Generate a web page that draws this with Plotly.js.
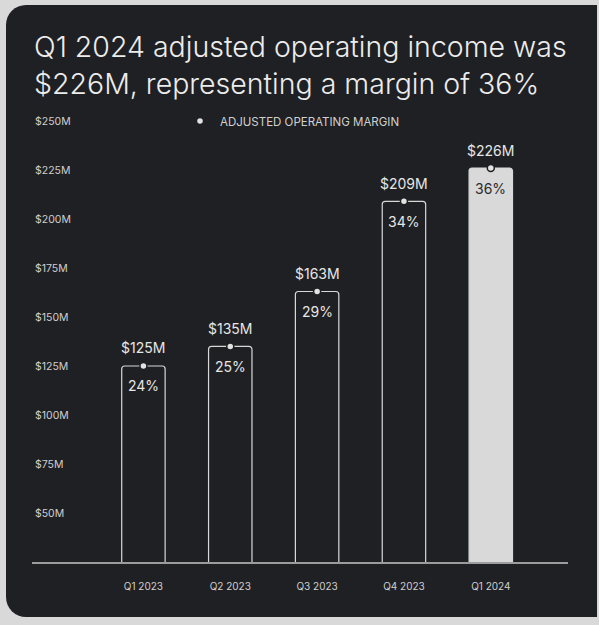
<!DOCTYPE html>
<html>
<head>
<meta charset="utf-8">
<script src="https://cdn.plot.ly/plotly-3.0.1.min.js"></script>
<style>
html, body { margin: 0; padding: 0; background: #d9d9d9; width: 599px; height: 625px; overflow: hidden; }
#panel { position: absolute; left: 6px; top: 5px; width: 591px; height: 612px; background: #1f2023; border-radius: 20px 0 0 20px; }
#chart { position: absolute; left: 0; top: 0; width: 599px; height: 625px; }
</style>
</head>
<body>
<div id="panel"></div>
<div id="chart"></div>
<script>
const quarters = ['Q1 2023', 'Q2 2023', 'Q3 2023', 'Q4 2023', 'Q1 2024'];
const incomeM = [125, 135, 163, 209, 226];
const marginPct = [24, 25, 29, 34, 36];
const yTickVals = [50, 75, 100, 125, 150, 175, 200, 225, 250];

const barFill = quarters.map((q, i) => i === quarters.length - 1 ? '#d9d9d9' : '#1f2023');
const pctColor = quarters.map((q, i) => i === quarters.length - 1 ? '#2a2a2d' : '#e6e6e6');

const bars = {
  type: 'bar',
  x: quarters,
  y: incomeM,
  width: 0.5,
  marker: { color: barFill, line: { color: '#d8d8d8', width: 1.2 }, cornerradius: 3 },
  showlegend: false,
  hoverinfo: 'skip'
};

const dots = {
  type: 'scatter',
  mode: 'markers',
  x: quarters,
  y: incomeM,
  name: 'ADJUSTED OPERATING MARGIN',
  marker: { size: 7, color: '#e2e2e2', line: { color: '#1f2023', width: 1.5 } },
  showlegend: true,
  hoverinfo: 'skip'
};

const annotations = [];
quarters.forEach((q, i) => {
  annotations.push({
    x: q, y: incomeM[i], xref: 'x', yref: 'y', yshift: 18,
    text: '$' + incomeM[i] + 'M', showarrow: false,
    font: { family: 'Inter, sans-serif', size: 14, color: '#e6e6e6' }
  });
  annotations.push({
    x: q, y: incomeM[i], xref: 'x', yref: 'y', yshift: -20,
    text: marginPct[i] + '%', showarrow: false,
    font: { family: 'Inter, sans-serif', size: 14, color: pctColor[i] }
  });
});

const layout = {
  width: 599,
  height: 625,
  paper_bgcolor: 'rgba(0,0,0,0)',
  plot_bgcolor: 'rgba(0,0,0,0)',
  margin: { l: 32, r: 31, t: 109, b: 63 },
  font: { family: 'Inter, sans-serif', color: '#d0d0d0' },
  title: {
    text: 'Q1 2024 adjusted operating income was<br>$226M, representing a margin of 36%',
    x: 34 / 599, xref: 'container', xanchor: 'left',
    y: 1 - 57 / 625, yref: 'container', yanchor: 'top',
    font: { family: 'Inter, sans-serif', size: 28.5, weight: 300, color: '#ececec' }
  },
  xaxis: {
    type: 'category',
    range: [-1.283, 4.889],
    showgrid: false,
    zeroline: false,
    showline: true,
    linecolor: '#9c9c9c',
    linewidth: 1.5,
    ticks: '',
    ticklabelstandoff: 14,
    tickfont: { family: 'Inter, sans-serif', size: 10, color: '#cfcfcf' },
    fixedrange: true
  },
  yaxis: {
    range: [25, 256.1],
    showgrid: false,
    zeroline: false,
    showline: false,
    ticks: '',
    tickvals: yTickVals,
    ticktext: yTickVals.map(v => '$' + v + 'M'),
    ticklabelposition: 'inside',
    tickfont: { family: 'Inter, sans-serif', size: 10.5, color: '#cfcfcf' },
    fixedrange: true
  },
  legend: {
    orientation: 'h',
    x: (180 - 32) / 536, xanchor: 'left',
    y: (562 - 121) / 453, yanchor: 'middle',
    itemwidth: 30,
    font: { family: 'Inter, sans-serif', size: 11.5, color: '#d0d0d0' },
    bgcolor: 'rgba(0,0,0,0)'
  },
  annotations: annotations,
  showlegend: true
};

Plotly.newPlot('chart', [bars, dots], layout, { displayModeBar: false, staticPlot: true });
</script>
</body>
</html>
